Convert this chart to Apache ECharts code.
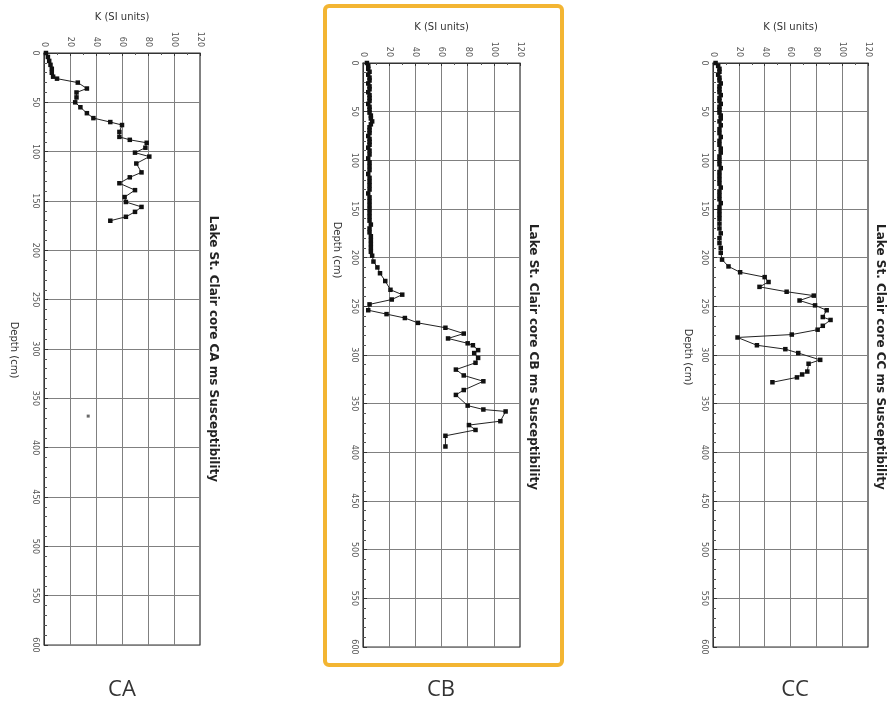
<!DOCTYPE html>
<html>
<head>
<meta charset="utf-8">
<script src="https://cdn.jsdelivr.net/npm/echarts@6/dist/echarts.min.js"></script>
<style>html,body{margin:0;padding:0;background:#fff;}#c{width:887px;height:706px;}</style>
</head>
<body>
<div id="c"></div>
<script>
// ---- data ----
var kTicks = [0, 20, 40, 60, 80, 100, 120];
var depthTicks = [0, 50, 100, 150, 200, 250, 300, 350, 400, 450, 500, 550, 600];
var coreNames = ['CA', 'CB', 'CC'];
var axisTitle = 'K (SI units)';
var depthTitle = 'Depth (cm)';

// Core CA
var caDepth = [0, 4, 8, 12, 16, 20, 24, 26, 30, 36, 40, 45, 50, 55, 61, 66, 70, 73, 80, 85, 88, 91, 96, 101, 105, 112, 121, 126, 132, 139, 146, 151, 156, 161, 166, 170];
var caK =     [1.5, 3, 4, 5, 6, 6, 7, 10, 26, 33, 25, 25, 24, 28, 33, 38, 51, 60, 58, 58, 66, 79, 78, 70, 81, 71, 75, 66, 58, 70, 62, 63, 75, 70, 63, 51];
var caLoneDepth = [368];
var caLoneK = [34];

// Core CB
var cbDepth = [0, 3, 6, 9, 12, 15, 18, 21, 24, 27, 30, 33, 36, 39, 42, 45, 48, 51, 54, 57, 60, 63, 66, 69, 72, 75, 78, 81, 84, 87, 90, 94, 98, 102, 106, 110, 114, 118, 122, 126, 130, 134, 138, 142, 146, 150, 154, 158, 162, 166, 170, 174, 178, 182, 186, 190, 194, 198, 204, 210, 216, 224, 233, 238, 243, 248, 254, 258, 262, 267, 272, 278, 283, 288, 290, 295, 298, 303, 308, 315, 321, 327, 336, 341, 352, 356, 358, 368, 372, 377, 383, 394];
var cbK =     [3, 4, 4, 5, 4, 5, 5, 4, 5, 5, 4, 5, 5, 5, 4, 5, 5, 5, 6, 6, 7, 6, 5, 5, 5, 4, 5, 5, 5, 4, 5, 5, 4, 5, 5, 5, 4, 5, 5, 5, 5, 4, 5, 5, 5, 5, 5, 5, 5, 6, 5, 5, 6, 6, 6, 6, 6, 7, 8, 11, 13, 17, 21, 30, 22, 5, 4, 18, 32, 42, 63, 77, 65, 80, 84, 88, 85, 88, 86, 71, 77, 92, 77, 71, 80, 92, 109, 105, 81, 86, 63, 63];

// Core CC
var ccDepth = [0, 3, 6, 9, 12, 15, 18, 21, 24, 27, 30, 33, 36, 39, 42, 45, 48, 51, 54, 57, 60, 64, 68, 72, 76, 80, 84, 88, 92, 96, 100, 104, 108, 112, 116, 120, 124, 128, 132, 136, 140, 144, 148, 152, 156, 160, 165, 170, 175, 180, 185, 190, 195, 202, 209, 215, 220, 225, 230, 235, 239, 244, 249, 254, 261, 264, 270, 274, 279, 282, 290, 294, 298, 305, 309, 317, 320, 323, 328];
var ccK =     [2, 4, 5, 5, 4, 5, 5, 6, 5, 5, 5, 6, 5, 5, 6, 5, 5, 5, 6, 6, 5, 6, 5, 5, 6, 5, 5, 6, 6, 5, 5, 5, 6, 5, 5, 5, 5, 6, 5, 5, 5, 6, 5, 5, 5, 5, 5, 5, 6, 5, 5, 6, 6, 7, 12, 21, 40, 43, 36, 57, 78, 67, 79, 88, 85, 91, 85, 81, 61, 19, 34, 56, 66, 83, 74, 73, 69, 65, 46];

function pairs(d, k) { return d.map(function (v, i) { return [k[i], v]; }); }

var grids = [
  { left: 44, top: 53, width: 156, height: 592 },
  { left: 363, top: 63, width: 157, height: 584 },
  { left: 713, top: 63, width: 155, height: 584 }
];
var FONT = 'DejaVu Sans';
var gridOpts = grids.map(function (g) {
  return { left: g.left, top: g.top, width: g.width, height: g.height, show: true, borderColor: '#333', borderWidth: 1.2, backgroundColor: '#fff' };
});
var xAxes = grids.map(function (g, i) {
  return {
    gridIndex: i, type: 'value', position: 'top', min: kTicks[0], max: kTicks[kTicks.length - 1], interval: 20,
    name: axisTitle, nameLocation: 'middle', nameGap: 31,
    nameTextStyle: { fontFamily: FONT, fontSize: 10, color: '#333' },
    axisLine: { show: true, lineStyle: { color: '#333' } },
    axisTick: { show: true, inside: true, length: 3, lineStyle: { color: '#333' } },
    minorTick: { show: true, splitNumber: 2, length: 2, lineStyle: { color: '#555' } },
    axisLabel: { rotate: -90, fontFamily: FONT, fontSize: 8, color: '#555', margin: 6 },
    splitLine: { show: true, lineStyle: { color: '#808080', width: 1 } }
  };
});
var yAxes = grids.map(function (g, i) {
  return {
    gridIndex: i, type: 'value', inverse: true, min: depthTicks[0], max: depthTicks[depthTicks.length - 1], interval: 50,
    axisLine: { show: true, lineStyle: { color: '#333' } },
    axisTick: { show: true, inside: true, length: 4, lineStyle: { color: '#333' } },
    minorTick: { show: true, splitNumber: 5, length: 3, lineStyle: { color: '#555' } },
    axisLabel: { rotate: -90, fontFamily: FONT, fontSize: 8, color: '#555', margin: 5 },
    splitLine: { show: true, lineStyle: { color: '#808080', width: 1 } }
  };
});
var datasets = [pairs(caDepth, caK), pairs(cbDepth, cbK), pairs(ccDepth, ccK)];
var series = datasets.map(function (d, i) {
  return {
    type: 'line', xAxisIndex: i, yAxisIndex: i, data: d,
    symbol: 'rect', symbolSize: 4.5, showSymbol: true,
    itemStyle: { color: '#111' }, lineStyle: { color: '#222', width: 1 },
    silent: true, animation: false
  };
});
series.push({
  type: 'scatter', xAxisIndex: 0, yAxisIndex: 0, data: pairs(caLoneDepth, caLoneK),
  symbol: 'rect', symbolSize: 3, itemStyle: { color: '#444' }, animation: false
});

var rightTitles = [
  { x: 213, y: 349, t: 'Lake St. Clair core CA ms Susceptibility' },
  { x: 533, y: 357, t: 'Lake St. Clair core CB ms Susceptibility' },
  { x: 880, y: 357, t: 'Lake St. Clair core CC ms Susceptibility' }
];
var depthPos = [{ x: 14, y: 350 }, { x: 337, y: 250 }, { x: 688, y: 357 }];
var labelPos = [{ x: 122, y: 690 }, { x: 441, y: 690 }, { x: 795, y: 690 }];

var graphics = [{
  type: 'rect', shape: { x: 325, y: 6, width: 237, height: 659, r: 4 },
  style: { fill: 'none', stroke: '#F3B532', lineWidth: 4 }, z: 0
}];
rightTitles.forEach(function (r) {
  graphics.push({
    type: 'text', x: r.x, y: r.y, rotation: -Math.PI / 2,
    style: { text: r.t, fontFamily: FONT, fontSize: 12, fontWeight: 'bold', fill: '#222', align: 'center', verticalAlign: 'middle' }
  });
});
depthPos.forEach(function (p) {
  graphics.push({
    type: 'text', x: p.x, y: p.y, rotation: -Math.PI / 2,
    style: { text: depthTitle, fontFamily: FONT, fontSize: 10, fill: '#333', align: 'center', verticalAlign: 'middle' }
  });
});
labelPos.forEach(function (p, i) {
  graphics.push({
    type: 'text', x: p.x, y: p.y,
    style: { text: coreNames[i], fontFamily: 'Open Sans', fontSize: 22, fill: '#333', align: 'center', verticalAlign: 'middle' }
  });
});

var chart = echarts.init(document.getElementById('c'), null, { renderer: 'canvas' });
chart.setOption({
  animation: false,
  backgroundColor: '#fff',
  grid: gridOpts,
  xAxis: xAxes,
  yAxis: yAxes,
  series: series,
  graphic: graphics
});
</script>
</body>
</html>
